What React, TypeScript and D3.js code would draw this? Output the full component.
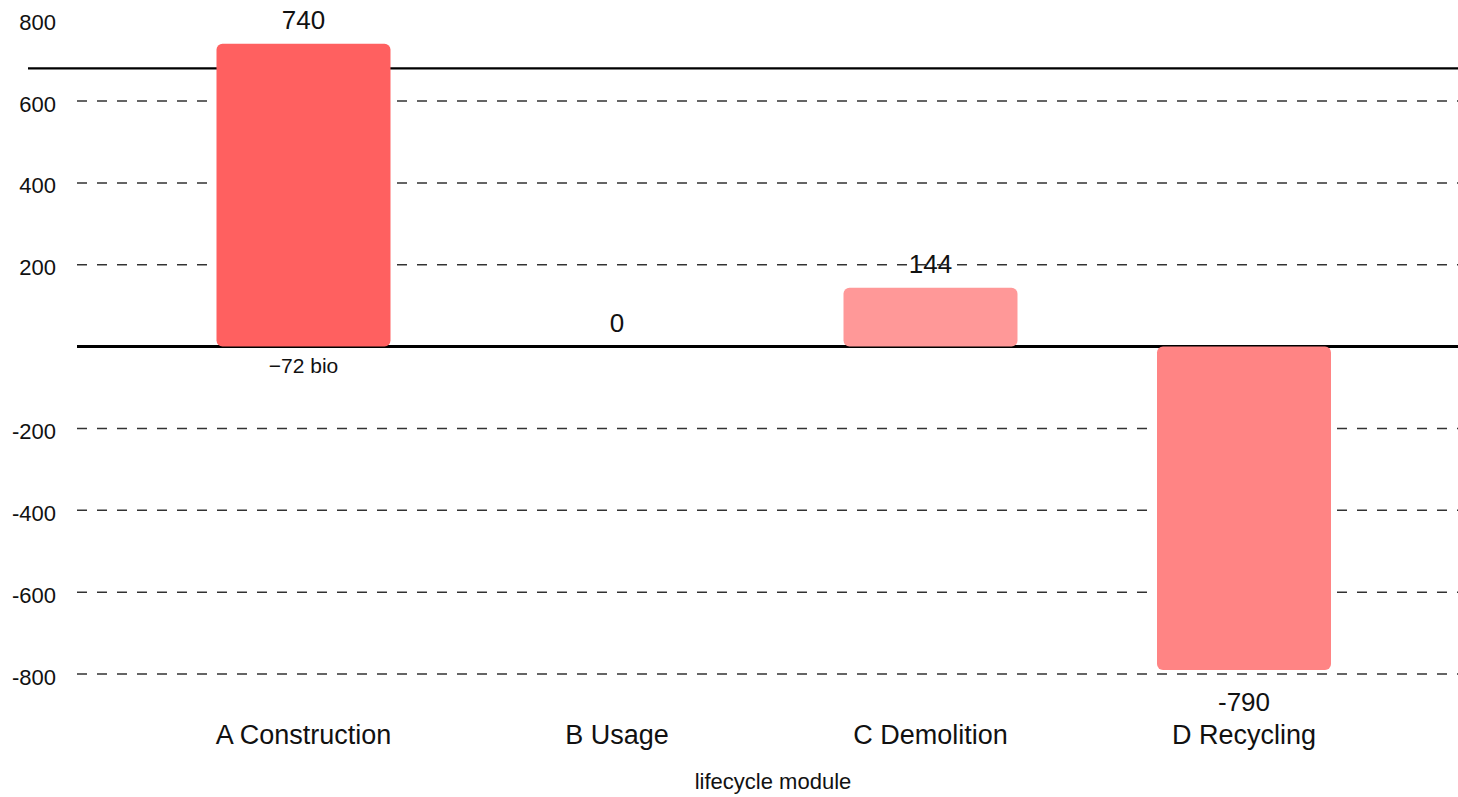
import React from "react";
import * as d3 from "d3";

const categories = ["A Construction", "B Usage", "C Demolition", "D Recycling"];
const values = [740, 0, 144, -790];
const valueLabels = ["740", "0", "144", "-790"];
const barColors = ["#ff6060", "#ff6060", "#ff9898", "#ff8484"];
const yTicks = [800, 600, 400, 200, -200, -400, -600, -800];
const gridTicks = [600, 400, 200, -200, -400, -600, -800];
const limitValue = 680;
const bioLabel = "\u221272 bio";
const axisTitle = "lifecycle module";

const W = 1458;
const H = 797;
const FONT = "'Liberation Sans', Arial, Helvetica, sans-serif";

export default function App() {
  const y = d3.scaleLinear().domain([-800, 800]).range([674, 19.2]);
  const x = d3.scaleBand<string>().domain(categories).range([146.75, 1400.75]).padding(0);
  const barW = x.bandwidth() * 0.555;
  const y0 = y(0);

  return (
    <svg
      width={W}
      height={H}
      style={{ position: "absolute", left: 0, top: 0, background: "#fff" }}
      fontFamily={FONT}
    >
      {values.map((v, i) => {
        const cx = (x(categories[i]) as number) + x.bandwidth() / 2;
        const yy = v >= 0 ? y(v) - 15 : y(v) + 41;
        return (
          <text key={"v" + i} x={cx} y={yy} textAnchor="middle" fontSize={26} fill="#111">
            {valueLabels[i]}
          </text>
        );
      })}
      {gridTicks.map((t) => (
        <line
          key={"g" + t}
          x1={77}
          x2={W}
          y1={y(t)}
          y2={y(t)}
          stroke="#333"
          strokeWidth={1.5}
          strokeDasharray="10,10"
        />
      ))}
      <line x1={28} x2={W} y1={y(limitValue)} y2={y(limitValue)} stroke="#000" strokeWidth={2.2} />
      <line x1={77} x2={W} y1={y0} y2={y0} stroke="#000" strokeWidth={3} />
      {values.map((v, i) => {
        const cx = (x(categories[i]) as number) + x.bandwidth() / 2;
        const top = Math.min(y(v), y0);
        const h = Math.abs(y(v) - y0);
        if (h <= 0) return null;
        return (
          <rect
            key={"b" + i}
            x={cx - barW / 2}
            y={top}
            width={barW}
            height={h}
            rx={6}
            ry={6}
            fill={barColors[i]}
          />
        );
      })}
      <text
        x={(x(categories[0]) as number) + x.bandwidth() / 2}
        y={y0 + 26}
        textAnchor="middle"
        fontSize={21}
        fill="#111"
      >
        {bioLabel}
      </text>
      {yTicks.map((t) => (
        <text key={"t" + t} x={56} y={y(t) + 10.5} textAnchor="end" fontSize={22} fill="#111">
          {String(t)}
        </text>
      ))}
      {categories.map((c) => (
        <text
          key={"c" + c}
          x={(x(c) as number) + x.bandwidth() / 2}
          y={744}
          textAnchor="middle"
          fontSize={27}
          fill="#111"
        >
          {c}
        </text>
      ))}
      <text x={773} y={789} textAnchor="middle" fontSize={22} fill="#111">
        {axisTitle}
      </text>
    </svg>
  );
}
